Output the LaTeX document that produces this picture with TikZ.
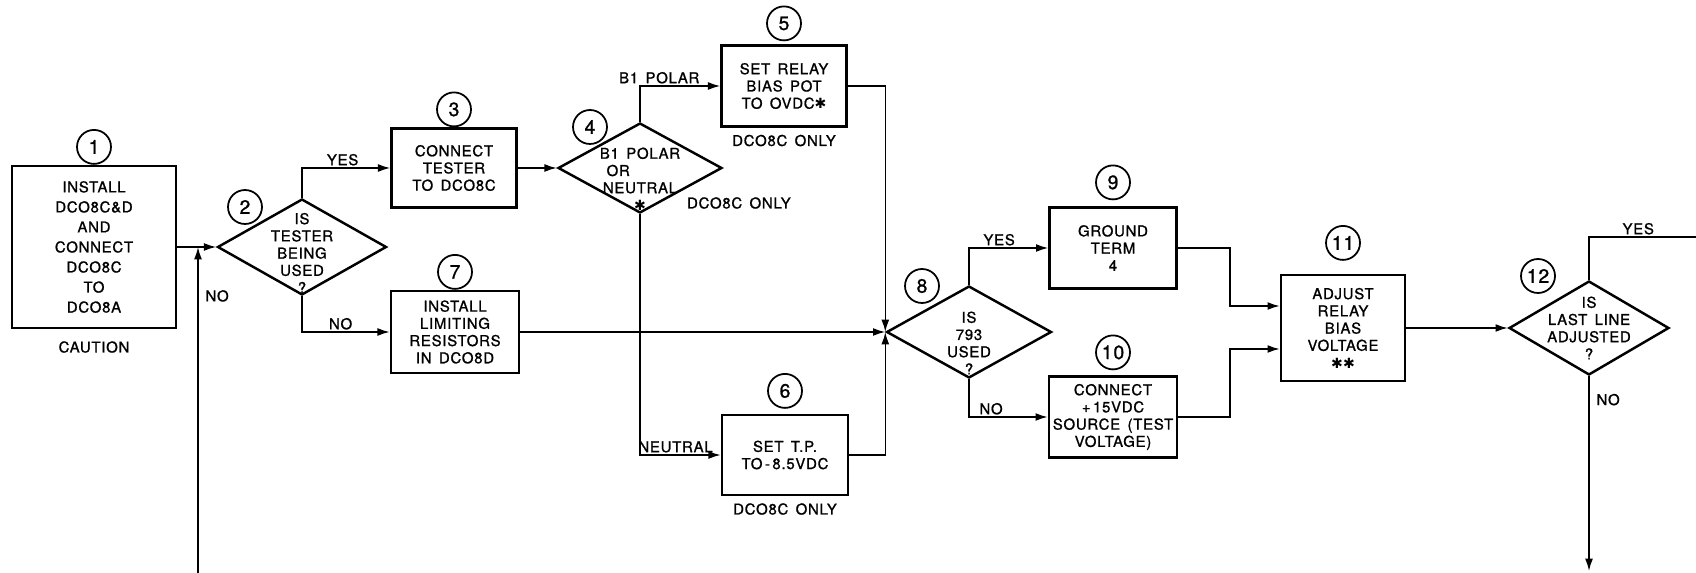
\documentclass[tikz,border=0pt]{standalone}
\usepackage{fontspec}
\setmainfont[LetterSpace=5,WordSpace=1.5,FakeBold=1.1]{TeX Gyre Heros}
\newfontfamily\symfont{DejaVu Sans}
\usepackage{tikz}
\usetikzlibrary{arrows.meta,shapes.geometric,positioning,calc}
\newcommand{\astk}{{\symfont\fontsize{8}{8}\selectfont ✱}}

\begin{document}
\begin{tikzpicture}
      [x=0.02cm, y=-0.02cm,
      every node/.style={font=\fontsize{8.5}{9.8}\selectfont},
      stepbox/.style={draw, line width=1.4pt, align=center, inner sep=0pt},
      query/.style={diamond, draw, line width=1.4pt, inner sep=0pt},
      num/.style={circle, draw, line width=1pt, minimum size=0.68cm,
        inner sep=0pt, font=\fontsize{11}{12}\selectfont},
      note/.style={inner sep=1pt},
      flow/.style={-{Latex[length=7pt,width=4.5pt]}, line width=0.9pt},
      wire/.style={line width=0.9pt}]

      \useasboundingbox (0,0) rectangle (1696,573);

      \node [stepbox, minimum width=3.28cm, minimum height=3.24cm,
      font=\fontsize{8.5}{11.4}\selectfont, label={[num]above:1},
      label={[note,label distance=2mm]below:CAUTION}] (b1) at (94,247)
      {INSTALL\\DCO8C\&D\\AND\\CONNECT\\DCO8C\\TO\\DCO8A};
      \node [query, minimum width=3.38cm, minimum height=1.92cm,
      label={[align=center,yshift=-1.2mm]center:IS\\TESTER\\BEING\\USED\\?}]
      (d2) at (302,247) {};
      \node [num] (n2) at ($(d2)+(-57,-40)$) {2};

      \node [stepbox, minimum width=2.5cm, minimum height=1.58cm,
      label={[num]above:3}] (b3) at (454,168) {CONNECT\\TESTER\\TO DCO8C};
      \node [query, minimum width=3.28cm, minimum height=1.8cm,
      label={[align=center,yshift=-2.2mm]center:B1 POLAR\\\makebox[4.8em][l]{\,OR}\\NEUTRAL\\\astk}]
      (d4) at (640,168) {};
      \node [num] (n4) at ($(d4)+(-50,-41)$) {4};
      \node [note, anchor=west] (o4) at (685,203) {DCO8C ONLY};

      \node [stepbox, minimum width=2.5cm, minimum height=1.62cm,
      label={[num,label distance=0.6mm]above:5},
      label={[note,label distance=1mm]below:DCO8C ONLY}] (b5) at (784,86)
      {SET RELAY\\BIAS POT\\TO OVDC\astk};
      \node [stepbox, minimum width=2.56cm, minimum height=1.64cm,
      label={[num]above:7}] (b7) at (455,332)
      {INSTALL\\LIMITING\\RESISTORS\\IN DCO8D};
      \node [stepbox, minimum width=2.52cm, minimum height=1.6cm,
      label={[num,label distance=1mm]above:6},
      label={[note,label distance=1mm]below:DCO8C ONLY}] (b6) at (785,455)
      {SET T.P.\\TO\,-\,8.5VDC};

      \node [query, minimum width=3.3cm, minimum height=1.84cm,
      label={[align=center,yshift=-2.2mm]center:IS\\793\\USED\\?}]
      (d8) at (969,332) {};
      \node [num] (n8) at ($(d8)+(-47,-46)$) {8};
      \node [stepbox, minimum width=2.54cm, minimum height=1.62cm,
      label={[num,label distance=1.2mm]above:9}] (b9) at (1113,248)
      {GROUND\\TERM\\4};
      \node [stepbox, minimum width=2.56cm, minimum height=1.62cm,
      label={[num,label distance=1mm]above:10}] (b10) at (1113,417)
      {CONNECT\\+\,15VDC\\SOURCE (TEST\\VOLTAGE)};
      \node [stepbox, minimum width=2.48cm, minimum height=2.12cm,
      label={[num,label distance=2.6mm]above:11}] (b11) at (1343,328)
      {ADJUST\\RELAY\\BIAS\\VOLTAGE\\\astk\astk};
      \node [query, minimum width=3.2cm, minimum height=1.88cm,
      label={[align=center]center:IS\\LAST LINE\\ADJUSTED\\?}]
      (d12) at (1589,328) {};
      \node [num] (n12) at ($(d12)+(-51,-52)$) {12};

      \coordinate (back) at (198,573);
      \coordinate (exit) at (1696,237);
      \coordinate (down) at (1589,571);

      \draw [flow] (b1.east) -- (d2.west);
      \draw [flow] (back) -- node [note, pos=0.85, right, xshift=1mm] {NO}
      (back |- d2.west);
      \draw [flow] (d2.north) |- node [note, pos=0.73, above] {YES} (b3.west);
      \draw [flow] (d2.south) |- node [note, pos=0.72, above] {NO} (b7.west);
      \draw [flow] (b3.east) -- (d4.west);
      \draw [flow] (d4.north) |- node [note, pos=0.62, above] {B1 POLAR} (b5.west);
      \draw [flow] (d4.south) |- node [note, pos=0.72, above] {NEUTRAL} (b6.west);
      \draw [flow] (b5.east) -| (d8.west);
      \draw [flow] (b7.east) -- (d8.west);
      \draw [flow] (b6.east) -| (d8.west);
      \draw [flow] (d8.north) |- node [note, pos=0.69, above] {YES} (b9.west);
      \draw [flow] (d8.south) |- node [note, pos=0.64, above] {NO} (b10.west);
      \draw [flow] (b9.east) -- ++(52,0) |- ($(b11.west)+(0,-22)$);
      \draw [flow] (b10.east) -- ++(52,0) |- ($(b11.west)+(0,21)$);
      \draw [flow] (b11.east) -- (d12.west);
      \draw [wire] (d12.north) |- node [note, pos=0.73, above] {YES} (exit);
      \draw [flow] (d12.south) -- node [note, pos=0.12, right, xshift=1mm] {NO}
      (down);
    \end{tikzpicture}
\end{document}
